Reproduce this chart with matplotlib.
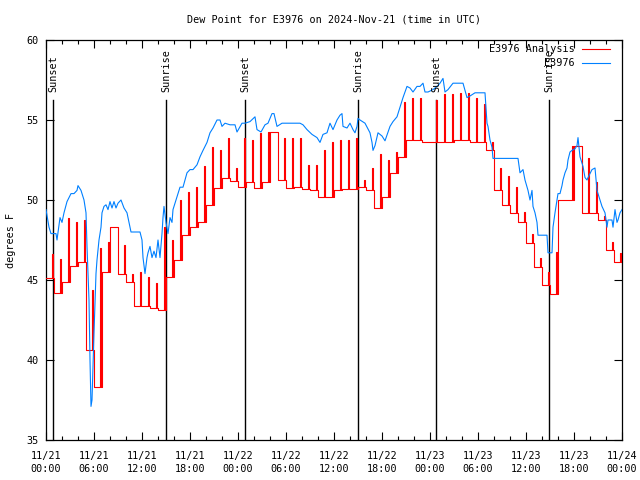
import matplotlib
matplotlib.use("Agg")
import matplotlib.pyplot as plt
from matplotlib.ticker import MultipleLocator

# ---- data ----
title = "Dew Point for E3976 on 2024-Nov-21 (time in UTC)"
ylabel = "degrees F"
tick_hours = [0, 6, 12, 18, 24, 30, 36, 42, 48, 54, 60, 66, 72]
tick_labels = ["11/21\n00:00", "11/21\n06:00", "11/21\n12:00", "11/21\n18:00",
               "11/22\n00:00", "11/22\n06:00", "11/22\n12:00", "11/22\n18:00",
               "11/23\n00:00", "11/23\n06:00", "11/23\n12:00", "11/23\n18:00",
               "11/24\n00:00"]
sun_hours = [0.875, 15.0, 24.875, 39.0, 48.75, 62.875]
sun_labels = ["Sunset", "Sunrise", "Sunset", "Sunrise", "Sunset", "Sunrise"]

# Analysis: hourly base value and the short spike value within each hour
ana_base = [45.1, 44.2, 44.9, 45.9, 46.1, 40.6, 38.3, 45.5, 48.3, 45.4, 44.9, 43.4,
            43.4, 43.25, 43.1, 45.2, 46.25, 47.8, 48.3, 48.6, 49.7, 50.75, 51.4, 51.2,
            50.8, 51.1, 50.75, 51.1, 54.25, 51.25, 50.75, 50.8, 50.7, 50.6, 50.2, 50.2,
            50.6, 50.7, 50.7, 50.8, 50.6, 49.5, 50.2, 51.7, 52.7, 53.75, 53.75, 53.6,
            53.6, 53.6, 53.6, 53.75, 53.75, 53.6, 53.6, 53.1, 50.6, 49.7, 49.2, 48.6,
            47.3, 45.8, 44.7, 44.1, 50.0, 50.0, 53.4, 49.2, 49.2, 48.75, 46.9, 46.1]
ana_peak = [46.6, 46.3, 48.9, 48.6, 48.75, 44.4, 47.0, 47.4, 48.3, 47.2, 45.4, 45.5,
            45.2, 44.8, 48.3, 47.5, 50.0, 50.5, 50.8, 52.1, 53.3, 53.1, 53.9, 52.0,
            53.9, 53.75, 54.2, 54.25, 54.25, 53.9, 53.9, 53.9, 52.2, 52.2, 53.1, 53.6,
            53.75, 53.75, 53.9, 51.25, 52.0, 52.9, 52.5, 53.0, 56.1, 56.4, 56.4, 53.6,
            56.25, 56.6, 56.6, 56.7, 56.7, 56.4, 56.0, 53.6, 52.0, 51.5, 50.8, 49.25,
            47.9, 46.4, 45.5, 46.75, 50.0, 53.4, 53.4, 52.6, 51.1, 49.0, 47.4, 46.7]
ana_end = 45.4

# Observations (hours since 11/21 00:00, degF)
obs_hours = [0.0, 0.375, 0.625, 1.25, 1.375, 1.75, 2.0, 2.25, 2.625, 3.125, 3.5, 3.875,
             4.0, 4.375, 4.75, 5.0, 5.125, 5.375, 5.5, 5.625, 5.75, 6.0, 6.25, 6.375,
             6.625, 6.875, 7.0, 7.25, 7.5, 7.75, 8.0, 8.25, 8.5, 8.75, 9.0, 9.375,
             9.75, 10.125, 10.625, 11.75, 12.0, 12.125, 12.375, 12.625, 12.75, 13.0,
             13.25, 13.5, 13.75, 14.0, 14.25, 14.5, 14.625, 14.75, 15.0, 15.25, 15.5,
             15.75, 15.875, 16.375, 16.75, 17.125, 17.625, 18.0, 18.375, 18.875, 19.25,
             19.625, 20.125, 20.5, 20.875, 21.375, 21.75, 22.0, 22.375, 23.0, 23.625,
             23.875, 24.5, 24.875, 25.5, 26.125, 26.375, 26.875, 27.375, 27.75, 28.25,
             28.5, 28.875, 29.5, 30.25, 31.125, 31.75, 32.125, 32.625, 33.25, 33.875,
             34.25, 34.625, 35.125, 35.5, 35.875, 36.375, 36.75, 37.0, 37.125, 37.625,
             38.0, 38.375, 38.625, 38.875, 39.0, 39.25, 39.875, 40.5, 40.75, 40.875,
             41.125, 41.5, 42.0, 42.375, 43.0, 43.375, 43.875, 44.25, 44.625, 45.125,
             45.5, 45.875, 46.375, 46.75, 47.125, 47.375, 47.75, 48.375, 48.875, 49.25,
             49.625, 49.875, 50.25, 50.875, 52.125, 52.625, 53.0, 53.625, 54.875,
             55.125, 55.25, 55.5, 55.75, 55.875, 59.0, 59.25, 59.625, 59.875, 60.25,
             60.5, 60.75, 60.875, 61.125, 61.375, 61.5, 62.625, 62.75, 63.25, 63.375,
             63.625, 63.875, 64.0, 64.25, 64.5, 64.625, 64.875, 65.125, 65.25, 65.5,
             65.75, 66.125, 66.375, 66.5, 66.75, 67.0, 67.125, 67.375, 67.625, 67.75,
             68.25, 68.625, 68.875, 69.0, 69.5, 69.875, 70.125, 70.25, 70.75, 70.875,
             71.125, 71.375, 71.5, 71.75, 72.0]
obs_dewpt = [49.4, 48.3, 47.9, 47.9, 47.5, 48.9, 48.6, 49.2, 49.9, 50.4, 50.4, 50.6,
             50.9, 50.6, 50.0, 49.2, 47.1, 43.75, 40.0, 37.1, 37.5, 41.7, 45.4, 46.25,
             47.5, 48.3, 49.2, 49.6, 49.7, 49.4, 49.9, 49.5, 49.9, 49.5, 49.8, 50.0,
             49.5, 49.2, 48.0, 48.0, 47.5, 46.4, 45.4, 46.4, 46.7, 47.1,
             46.4, 46.8, 46.4, 47.5, 46.4, 47.9, 48.9, 49.6, 48.6, 47.9, 48.9,
             48.6, 49.4, 50.2, 50.8, 50.8, 51.7, 51.9, 51.9, 52.2, 52.7,
             53.1, 53.6, 54.2, 54.5, 55.0, 55.0, 54.6, 54.8, 54.7, 54.7,
             54.25, 54.8, 54.8, 54.9, 55.2, 54.4, 54.25, 54.7, 54.8, 55.4,
             55.4, 54.6, 54.8, 54.8, 54.8, 54.8, 54.7, 54.4, 54.1, 53.9,
             53.6, 54.1, 54.2, 54.8, 54.4, 55.0, 55.3, 55.4, 54.6, 54.5,
             54.8, 54.4, 54.2, 54.6, 55.1, 55.0, 54.8, 54.2, 53.6, 53.1,
             53.4, 54.2, 54.0, 53.7, 54.6, 54.9, 55.2, 55.8, 56.4, 57.1,
             57.0, 56.75, 57.1, 57.1, 57.3, 56.75, 56.75, 56.9, 57.1, 57.3,
             57.6, 56.75, 56.9, 57.3, 57.3, 56.4, 56.5, 56.7, 56.7,
             54.8, 54.6, 53.75, 53.3, 52.6, 52.6, 51.7, 51.9, 51.25, 50.6,
             50.0, 50.6, 49.6, 49.2, 48.6, 47.8, 47.8, 46.7, 46.7, 48.3,
             49.2, 50.0, 50.4, 50.4, 50.9, 51.25, 51.7, 52.0, 52.5, 53.0,
             53.1, 53.2, 53.4, 53.9, 52.7, 52.3, 52.1, 51.4, 51.25, 51.4,
             51.9, 52.0, 50.6, 50.4, 49.6, 49.2, 48.3, 48.75, 48.75, 48.3,
             49.4, 48.6, 48.75, 49.2, 49.4]

# ---- build analysis step series from hourly values ----
ana_t, ana_v = [], []
for h, (b, p) in enumerate(zip(ana_base, ana_peak)):
    ana_t += [h, h + 0.72, h + 0.84]
    ana_v += [b, p, b]
ana_t.append(72.0)
ana_v.append(ana_end)

# ---- figure ----
mono = "DejaVu Sans Mono"
fs = 7.3
fig = plt.figure(figsize=(6.4, 4.8), dpi=100)
ax = fig.add_axes([46 / 640, 40 / 480, 576 / 640, 400 / 480])

for t in sun_hours:
    ax.plot([t, t], [35, 56.25], color="black", lw=1.0, zorder=1)
for t, lab in zip(sun_hours, sun_labels):
    ax.text(t, 56.75, lab, rotation=90, ha="center", va="bottom",
            family=mono, fontsize=fs, zorder=5)

ax.plot(ana_t, ana_v, drawstyle="steps-post", color="#ff0000", lw=0.8, zorder=3)
ax.plot(obs_hours, obs_dewpt, color="#0080ff", lw=0.8, zorder=4)

ax.set_xlim(0, 72)
ax.set_ylim(35, 60)
ax.set_xticks(tick_hours)
ax.set_xticklabels(tick_labels, family=mono, fontsize=fs, linespacing=1.3)
ax.xaxis.set_minor_locator(MultipleLocator(2))
ax.yaxis.set_major_locator(MultipleLocator(5))
for lab in ax.get_yticklabels():
    lab.set_family(mono)
    lab.set_fontsize(fs)
ax.tick_params(which="both", direction="in", top=True, right=True, width=0.8)
ax.tick_params(which="major", length=6)
ax.tick_params(axis="x", which="major", pad=8)
ax.tick_params(axis="y", which="major", pad=5)
ax.tick_params(which="minor", length=3)
for s in ax.spines.values():
    s.set_linewidth(0.9)

ax.set_ylabel(ylabel, family=mono, fontsize=fs, labelpad=8)
fig.text(334 / 640, 1 - 20 / 480, title, ha="center", va="center",
         family=mono, fontsize=fs)

# legend (right-aligned text, sample line to the right)
leg_rows = [("E3976 Analysis", "#ff0000", 0.9775), ("E3976", "#0080ff", 0.9425)]
for txt, col, yy in leg_rows:
    ax.text(0.918, yy, txt, transform=ax.transAxes, ha="right", va="center",
            family=mono, fontsize=fs, zorder=6)
    ax.plot([0.9306, 0.979], [yy, yy], transform=ax.transAxes, color=col,
            lw=0.8, zorder=6)

fig.savefig("out.png", dpi=100)
